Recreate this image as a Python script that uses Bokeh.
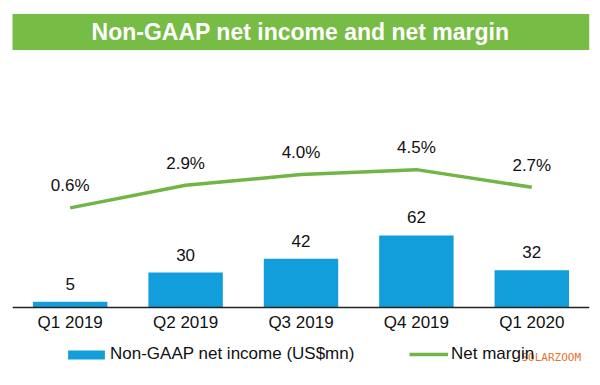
from bokeh.plotting import figure
from bokeh.models import (ColumnDataSource, Range1d, LabelSet, Label, Legend, LegendItem)
from bokeh.core.properties import value
from bokeh.embed import file_html
from bokeh.resources import INLINE

quarters = ["Q1 2019", "Q2 2019", "Q3 2019", "Q4 2019", "Q1 2020"]
income = [5, 30, 42, 62, 32]
margin = [0.6, 2.9, 4.0, 4.5, 2.7]
income_labels = ["5", "30", "42", "62", "32"]
margin_labels = ["0.6%", "2.9%", "4.0%", "4.5%", "2.7%"]

title_text = "Non-GAAP net income and net margin"
bar_name = "Non-GAAP net income (US$mn)"
line_name = "Net margin"
watermark = "SOLARZOOM"

FONT = "Liberation Sans"
BLUE = "#119EDA"
GREEN = "#70B545"
BANNER = "#77BC44"

src = ColumnDataSource(dict(q=quarters, inc=income, mar=margin,
                            il=income_labels, ml=margin_labels))

p = figure(x_range=quarters, y_range=Range1d(-67.07, 263.97),
           width=600, height=385, output_backend="svg",
           toolbar_location=None, y_axis_location=None,
           min_border_left=12, min_border_right=11, min_border_top=0,
           min_border_bottom=0, outline_line_color=None,
           background_fill_color="white", border_fill_color="white")
p.extra_y_ranges = {"margin": Range1d(-17.53, 21.76)}
p.xgrid.visible = False
p.ygrid.visible = False

bars = p.vbar(x="q", top="inc", width=0.645, source=src,
              fill_color=BLUE, line_color=None)
line = p.line(x="q", y="mar", source=src, y_range_name="margin",
              line_color=GREEN, line_width=3.5)

p.add_layout(LabelSet(x="q", y="inc", text="il", source=src, y_offset=18,
                      text_align="center", text_baseline="middle",
                      text_font=value(FONT), text_font_size=value("17px"),
                      text_color="#111111"))
p.add_layout(LabelSet(x="q", y="mar", text="ml", source=src, y_offset=22,
                      y_range_name="margin",
                      text_align="center", text_baseline="middle",
                      text_font=value(FONT), text_font_size=value("17px"),
                      text_color="#111111"))

ax = p.xaxis[0]
ax.fixed_location = 0
ax.axis_line_color = "#222222"
ax.axis_line_width = 1.5
ax.major_tick_line_color = None
ax.minor_tick_line_color = None
ax.major_tick_out = 0
ax.major_tick_in = 0
ax.major_label_standoff = 6
ax.major_label_text_font = FONT
ax.major_label_text_font_size = "17px"
ax.major_label_text_color = "#111111"

# title banner
p.add_layout(Label(x=288, y=353.5, x_units="screen", y_units="screen",
                   text=title_text, text_align="center", text_baseline="middle",
                   text_font=FONT, text_font_style="bold", text_font_size="23px",
                   text_color="white", background_fill_color=BANNER,
                   padding=(80, 5)))

common = dict(orientation="horizontal", padding=0, margin=0, spacing=0,
              border_line_color=None, background_fill_alpha=0,
              label_text_font=FONT, label_text_font_size="17px",
              label_text_color="#111111")
leg1 = Legend(items=[LegendItem(label=bar_name, renderers=[bars])],
              location=(51, 21), glyph_width=46, glyph_height=11,
              label_standoff=1, **common)
leg2 = Legend(items=[LegendItem(label=line_name, renderers=[line])],
              location=(397, 21), glyph_width=39, glyph_height=20,
              label_standoff=3, **common)
p.add_layout(leg1, "center")
p.add_layout(leg2, "center")

p.add_layout(Label(x=509, y=28, x_units="screen", y_units="screen",
                   text=watermark, text_baseline="middle",
                   text_font="DejaVu Sans Mono", text_font_size="11px",
                   text_color="#E8732A"))

open("out.html", "w").write(file_html(p, INLINE))
